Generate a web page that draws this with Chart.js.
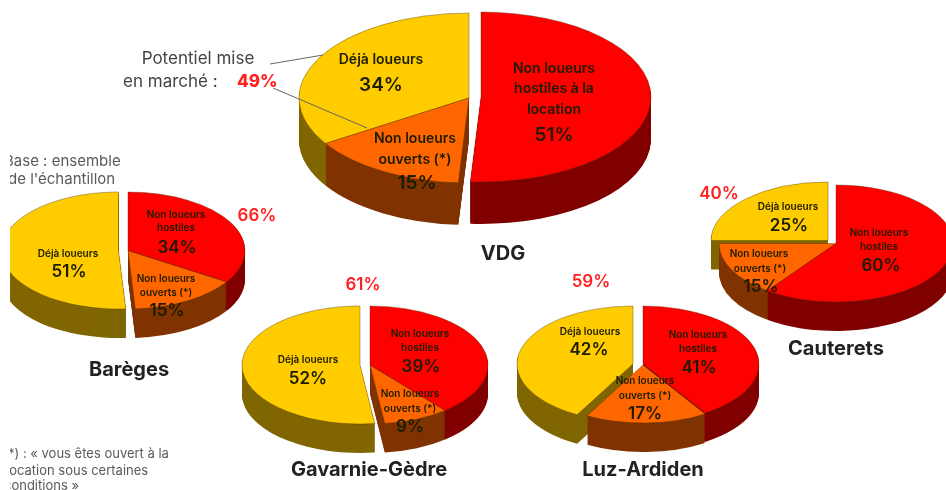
<!DOCTYPE html>
<html lang="fr">
<head>
<meta charset="utf-8">
<script src="https://cdn.jsdelivr.net/npm/chart.js@4/dist/chart.umd.min.js"></script>
<style>
html,body{margin:0;padding:0;background:#fff;width:946px;height:490px;overflow:hidden}
#stage{position:relative;width:946px;height:490px;overflow:hidden;filter:blur(.45px);font-family:Inter,Lato,"Open Sans",sans-serif}
canvas{position:absolute}
.t{position:absolute;white-space:nowrap;line-height:1;transform:translate(-50%,-50%)}
.l{transform:translate(0,-50%)}
#mask{position:absolute;left:0;top:0;width:10px;height:490px;background:#fff}
svg{position:absolute;left:0;top:0}
</style>
</head>
<body>
<div id="stage">
<div id="charts"></div>
<svg width="946" height="490">
  <line x1="270" y1="64" x2="323" y2="55" stroke="#666" stroke-width="1"/>
  <line x1="273" y1="88" x2="367" y2="128" stroke="#666" stroke-width="1"/>
</svg>
<div id="labels"></div>
<div id="mask"></div>
</div>
<script>
// ---- data ----
const categories = ['Non loueurs hostiles', 'Non loueurs ouverts (*)', 'Déjà loueurs'];
const vdg = [51, 15, 34];
const bareges = [34, 15, 51];
const gavarnie = [39, 9, 52];
const luz = [41, 17, 42];
const cauterets = [60, 15, 25];

// ---- styles ----
const topColors = ['#FF0000', '#FF6600', '#FFCC00'];
const sideColors = ['#800000', '#803300', '#806600'];

// pie geometry: radius, depth, and the centre of each exploded slice
const pies = [
  {values: vdg,       r: 170, depth: 42, centres: [[481, 97], [469, 98], [469, 98]]},
  {values: bareges,   r: 117, depth: 29, centres: [[128, 250], [128, 250], [118.5, 250]]},
  {values: gavarnie,  r: 118, depth: 29, centres: [[370, 365], [370, 365], [360, 365]]},
  {values: luz,       r: 116, depth: 29, centres: [[643, 364], [643, 365], [633, 364]]},
  {values: cauterets, r: 117, depth: 29, centres: [[836, 243], [836, 243], [828, 240]]}
];

const extrude = {
  id: 'extrude',
  beforeDatasetsDraw(chart, args, opts) {
    const ctx = chart.ctx;
    const arcs = chart.getDatasetMeta(0).data;
    const drawArc = (arc, i, z, fill, line, lw) => {
      const original = arc.options;
      arc.options = Object.assign({}, original, {backgroundColor: fill, borderColor: line, borderWidth: lw});
      ctx.save();
      ctx.translate(arc.x + opts.shifts[i][0], arc.y + opts.shifts[i][1] + z);
      ctx.scale(1, 0.5);
      ctx.translate(-arc.x, -arc.y);
      arc.draw(ctx);
      ctx.restore();
      arc.options = original;
    };
    for (let z = opts.depth; z >= 1; z--) {
      [2, 1, 0].forEach(i => drawArc(arcs[i], i, z, sideColors[i], sideColors[i], 0));
    }
    [2, 1, 0].forEach(i => drawArc(arcs[i], i, 0, topColors[i], 'rgba(70,50,0,.55)', 0.9));
    return false;
  }
};

pies.forEach(p => {
  const w = 2 * p.r + 50, h = p.r + 2 * p.depth + 50;
  const [bx, by] = p.centres[0];
  const c = document.createElement('canvas');
  c.width = w; c.height = h;
  c.style.left = (bx - w / 2) + 'px';
  c.style.top = (by - h / 2) + 'px';
  c.style.width = w + 'px';
  c.style.height = h + 'px';
  document.getElementById('charts').appendChild(c);
  new Chart(c, {
    type: 'pie',
    data: {labels: categories, datasets: [{data: p.values, backgroundColor: topColors, borderWidth: 0, radius: p.r}]},
    options: {
      responsive: false,
      animation: false,
      layout: {padding: 0},
      events: [],
      plugins: {
        legend: {display: false},
        tooltip: {enabled: false},
        extrude: {depth: p.depth, shifts: p.centres.map(q => [q[0] - bx, q[1] - by])}
      }
    },
    plugins: [extrude]
  });
});

// ---- text ----
const dark = '#1c1c00', grey = '#5a5a5a', red = '#FF2020', ink = '#222';
const S = 10, M = 14, P = 17, B = 19, T = 20;
const texts = [
  // VDG
  ['Non loueurs', 554, 68, M, 600, dark], ['hostiles à la', 554, 88, M, 600, dark], ['location', 554, 109, M, 600, dark], ['51%', 554, 134, B, 600, dark],
  ['Déjà loueurs', 381, 59, M, 600, dark], ['34%', 381, 84, B, 600, dark],
  ['Non loueurs', 415, 138, M, 600, dark], ['ouverts (*)', 415, 159, M, 600, dark], ['15%', 417, 182, B, 600, dark],
  ['VDG', 503, 253, T, 700, ink],
  // Barèges
  ['Non loueurs', 176, 214, S, 600, dark], ['hostiles', 176, 227, S, 600, dark], ['34%', 177, 247, P, 600, dark],
  ['Déjà loueurs', 68, 253, S, 600, dark], ['51%', 69, 271, P, 600, dark],
  ['Non loueurs', 166, 278, S, 600, dark], ['ouverts (*)', 166, 292, S, 600, dark], ['15%', 167, 310, P, 600, dark],
  ['66%', 257, 215, P, 600, red], ['Barèges', 129, 369, T, 700, ink],
  // Gavarnie
  ['Non loueurs', 420, 333, S, 600, dark], ['hostiles', 420, 347, S, 600, dark], ['39%', 421, 366, P, 600, dark],
  ['Déjà loueurs', 308, 359, S, 600, dark], ['52%', 308, 378, P, 600, dark],
  ['Non loueurs', 410, 393, S, 600, dark], ['ouverts (*)', 410, 408, S, 600, dark], ['9%', 410, 426, P, 600, dark],
  ['61%', 363, 284, P, 600, red], ['Gavarnie-Gèdre', 369, 469, T, 700, ink],
  // Luz
  ['Non loueurs', 698, 334, S, 600, dark], ['hostiles', 698, 348, S, 600, dark], ['41%', 699, 367, P, 600, dark],
  ['Déjà loueurs', 590, 331, S, 600, dark], ['42%', 589, 349, P, 600, dark],
  ['Non loueurs', 645, 380, S, 600, dark], ['ouverts (*)', 645, 395, S, 600, dark], ['17%', 645, 413, P, 600, dark],
  ['59%', 591, 281, P, 600, red], ['Luz-Ardiden', 643, 469, T, 700, ink],
  // Cauterets
  ['Déjà loueurs', 788, 206, S, 600, dark], ['25%', 789, 225, P, 600, dark],
  ['Non loueurs', 879, 232, S, 600, dark], ['hostiles', 879, 246, S, 600, dark], ['60%', 881, 265, P, 600, dark],
  ['Non loueurs', 759, 253, S, 600, dark], ['ouverts (*)', 760, 268, S, 600, dark], ['15%', 761, 286, P, 600, dark],
  ['40%', 719, 193, P, 600, red], ['Cauterets', 836, 348, T, 700, ink],
  // annotations
  ['Potentiel mise', 198, 58, 17, 400, '#444']
];
const leftTexts = [
  ['en marché :', 123, 81, 17, 400, '#444'], ['49%', 237, 81, 17, 800, red],
  ['Base : ensemble', 4, 160, 15, 400, grey], ["de l'échantillon", 8, 178, 15, 400, grey],
  ['*) : « vous êtes ouvert à la', 8, 453, 13, 400, grey], ['location sous certaines', 6, 470, 13, 400, grey], ['conditions »', 4, 485, 13, 400, grey]
];
const host = document.getElementById('labels');
const put = (list, cls) => list.forEach(([s, x, y, size, weight, color]) => {
  const d = document.createElement('div');
  d.className = cls;
  d.textContent = s;
  d.style.cssText = `left:${x}px;top:${y}px;font-size:${size}px;font-weight:${weight};color:${color}`;
  host.appendChild(d);
});
put(texts, 't');
put(leftTexts, 't l');
</script>
</body>
</html>
